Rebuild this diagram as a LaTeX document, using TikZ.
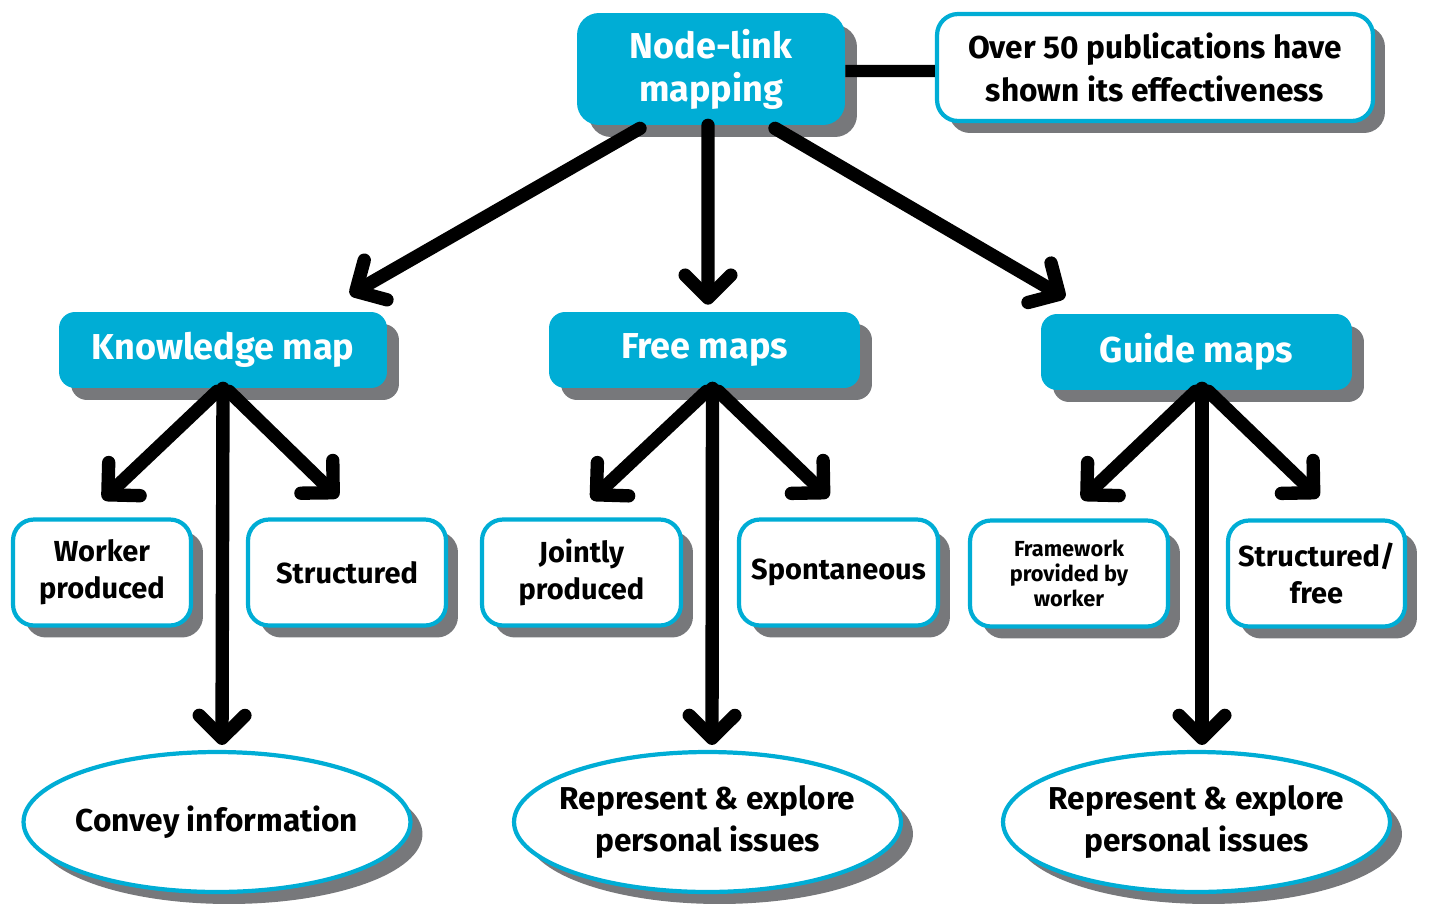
\documentclass[tikz,border=0pt]{standalone}
\usepackage{fontspec}
\setmainfont{Fira Sans}
\usetikzlibrary{arrows.meta,shapes.geometric,shadows,calc}

\definecolor{mapblue}{HTML}{00ADD5}
\definecolor{shadowgray}{HTML}{77787B}

\tikzset{
  shade/.style={drop shadow={shadow xshift=0.24cm,shadow yshift=-0.24cm,fill=shadowgray,opacity=1}},
  rootbox/.style={shade,rectangle,rounded corners=0.44cm,fill=mapblue,draw=none,
    text=white,align=center,inner sep=0pt,minimum height=2.24cm,
    font=\bfseries\fontsize{20.5}{24.4}\selectfont},
  notebox/.style={shade,rectangle,rounded corners=0.42cm,fill=white,draw=mapblue,
    line width=2.4pt,align=center,inner sep=0pt,minimum height=2.14cm,
    font=\bfseries\fontsize{18}{24.4}\selectfont},
  typebox/.style={shade,rectangle,rounded corners=0.32cm,fill=mapblue,draw=none,
    text=white,align=center,inner sep=0pt,minimum height=1.52cm,
    font=\bfseries\fontsize{20.5}{24.4}\selectfont},
  leafbox/.style={shade,rectangle,rounded corners=0.42cm,fill=white,draw=mapblue,
    line width=2.4pt,align=center,inner sep=0pt,minimum height=2.12cm,
    font=\bfseries\fontsize{16.5}{21}\selectfont},
  smallleaf/.style={leafbox,font=\bfseries\fontsize{12.4}{14.2}\selectfont},
  goal/.style={shade,ellipse,fill=white,draw=mapblue,line width=2.4pt,
    inner sep=0pt,minimum width=7.74cm,minimum height=2.80cm,
    label={[align=center,font=\bfseries\fontsize{18}{24.4}\selectfont]center:#1}},
  arr/.style={line width=7.6pt,line cap=round,
    -{Straight Barb[length=13pt,width=26pt,round]}},
  link/.style={line width=7pt}
}

\begin{document}
\begin{tikzpicture}[x=0.02cm,y=-0.02cm]
\useasboundingbox (0,0) rectangle (1430,903);

% root and its note
\node[rootbox,minimum width=5.36cm] (nl) at (711,69) {Node-link\\mapping};
\node[notebox,minimum width=8.72cm] (pub) at (1155,67.5) {Over 50 publications have\\shown its effectiveness};

% map types
\node[typebox,minimum width=6.56cm] (km) at (223,350) {Knowledge map};
\node[typebox,minimum width=6.22cm] (fm) at (704.5,350) {Free maps};
\node[typebox,minimum width=6.22cm] (gm) at (1196.5,352) {Guide maps};

% properties
\node[leafbox,minimum width=3.56cm] (wp) at (102,572.5) {Worker\\produced};
\node[leafbox,minimum width=3.96cm] (st) at (347,572.5) {Structured};
\node[leafbox,minimum width=3.98cm] (jp) at (581.5,572.5) {Jointly\\produced};
\node[leafbox,minimum width=3.98cm] (sp) at (838.5,572.5) {Spontaneous};
\node[smallleaf,minimum width=3.96cm] (fw) at (1069,573.5) {Framework\\provided by\\worker};
\node[leafbox,minimum width=3.54cm] (sf) at (1316.5,573.5) {Structured/\\free};

% purposes
\node[goal={Convey information}] (e1) at (217,822) {};
\node[goal={Represent \& explore\\personal issues}] (e2) at (707.5,822) {};
\node[goal={Represent \& explore\\personal issues}] (e3) at (1196.5,822) {};

% root connectors
\draw[link] ($(nl.east)+(0,2)$) -- ($(pub.west)+(0,3.5)$);
\draw[arr] ($(nl.south)+(-71,3)$) -- ($(km.north)+(127,-17)$);
\draw[arr] ($(nl.south)+(-3,0)$) -- ($(fm.north)+(3.5,-7)$);
\draw[arr] ($(nl.south)+(64,3)$) -- ($(gm.north)+(-131.5,-16)$);

% knowledge map branches
\draw[arr] ($(km.south)+(-6,3)$) -- ($(wp.north)+(1,-18)$);
\draw[arr] ($(km.south)+(6,3)$) -- ($(st.north)+(-9,-20)$);
\draw[arr] ($(km.south)+(0,0)$) -- ($(e1.north)+(5,-5)$);

% free map branches
\draw[arr] ($(fm.south)+(2,3)$) -- ($(jp.north)+(10,-18)$);
\draw[arr] ($(fm.south)+(14,3)$) -- ($(sp.north)+(-10,-20)$);
\draw[arr] ($(fm.south)+(8,0)$) -- ($(e2.north)+(4.5,-5)$);

% guide map branches
\draw[arr] ($(gm.south)+(-1,1)$) -- ($(fw.north)+(13,-19)$);
\draw[arr] ($(gm.south)+(12,1)$) -- ($(sf.north)+(2,-21)$);
\draw[arr] ($(gm.south)+(5.5,-2)$) -- ($(e3.north)+(5.5,-5)$);
\end{tikzpicture}
\end{document}
